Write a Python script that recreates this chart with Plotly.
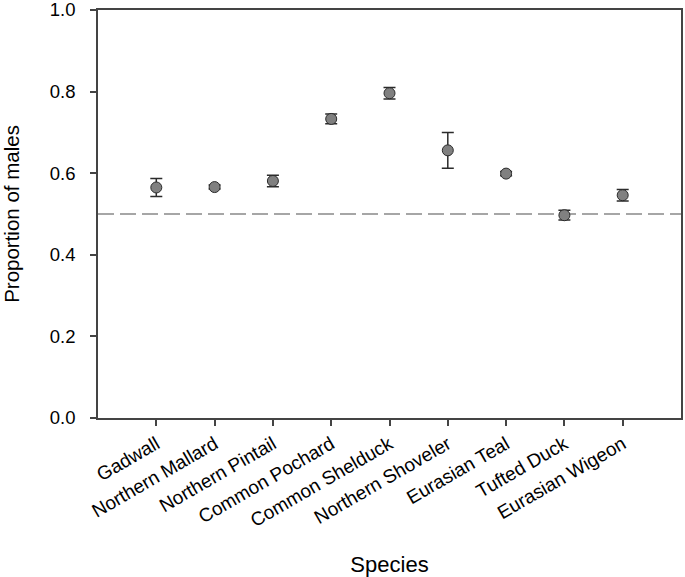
import plotly.graph_objects as go

species = ["Gadwall", "Northern Mallard", "Northern Pintail", "Common Pochard",
           "Common Shelduck", "Northern Shoveler", "Eurasian Teal", "Tufted Duck",
           "Eurasian Wigeon"]
proportion = [0.565, 0.566, 0.581, 0.733, 0.796, 0.656, 0.599, 0.497, 0.546]
error = [0.022, 0.005, 0.014, 0.012, 0.014, 0.044, 0.005, 0.012, 0.014]
y_ticks = [0.0, 0.2, 0.4, 0.6, 0.8, 1.0]
reference_level = 0.5

font_family = "Liberation Sans, Arial, sans-serif"

fig = go.Figure()
fig.add_trace(go.Scatter(
    x=species, y=proportion, mode="markers",
    marker=dict(size=11, color="#808080", line=dict(color="#2b2b2b", width=1)),
    error_y=dict(type="data", array=error, visible=True, color="#2b2b2b",
                 thickness=1.5, width=6),
    showlegend=False,
))
fig.add_shape(type="line", xref="paper", yref="y", x0=0, x1=1,
              y0=reference_level, y1=reference_level,
              line=dict(color="#a6a6a6", width=2, dash="16px,6px"), layer="below")

fig.update_layout(
    width=685, height=577,
    margin=dict(l=98, r=4, t=10, b=159),
    plot_bgcolor="white", paper_bgcolor="white",
    font=dict(family=font_family, color="black", size=18),
    xaxis=dict(
        type="category", range=[-1, 9], automargin=False,
        showline=True, linecolor="#444", linewidth=1.5, mirror=True,
        ticks="outside", ticklen=6, tickcolor="#444", tickwidth=1.5,
        tickangle=-30, tickfont=dict(size=19), ticklabeloverflow="allow",
        showgrid=False, zeroline=False,
        title=dict(text="Species", font=dict(size=22), standoff=29),
    ),
    yaxis=dict(
        range=[0, 1], tickvals=y_ticks, tickformat=".1f", automargin=False,
        showline=True, linecolor="#444", linewidth=1.5, mirror=True,
        ticks="outside", ticklen=6, tickcolor="#444", tickwidth=1.5,
        tickfont=dict(size=18.5), ticklabelstandoff=11, ticklabeloverflow="allow",
        showgrid=False, zeroline=False,
        title=dict(text="Proportion of males", font=dict(size=20.5), standoff=25),
    ),
)

fig.write_html("out.html", config={"displayModeBar": False},
               post_script="document.body.style.margin='0';document.body.style.overflow='hidden';")
